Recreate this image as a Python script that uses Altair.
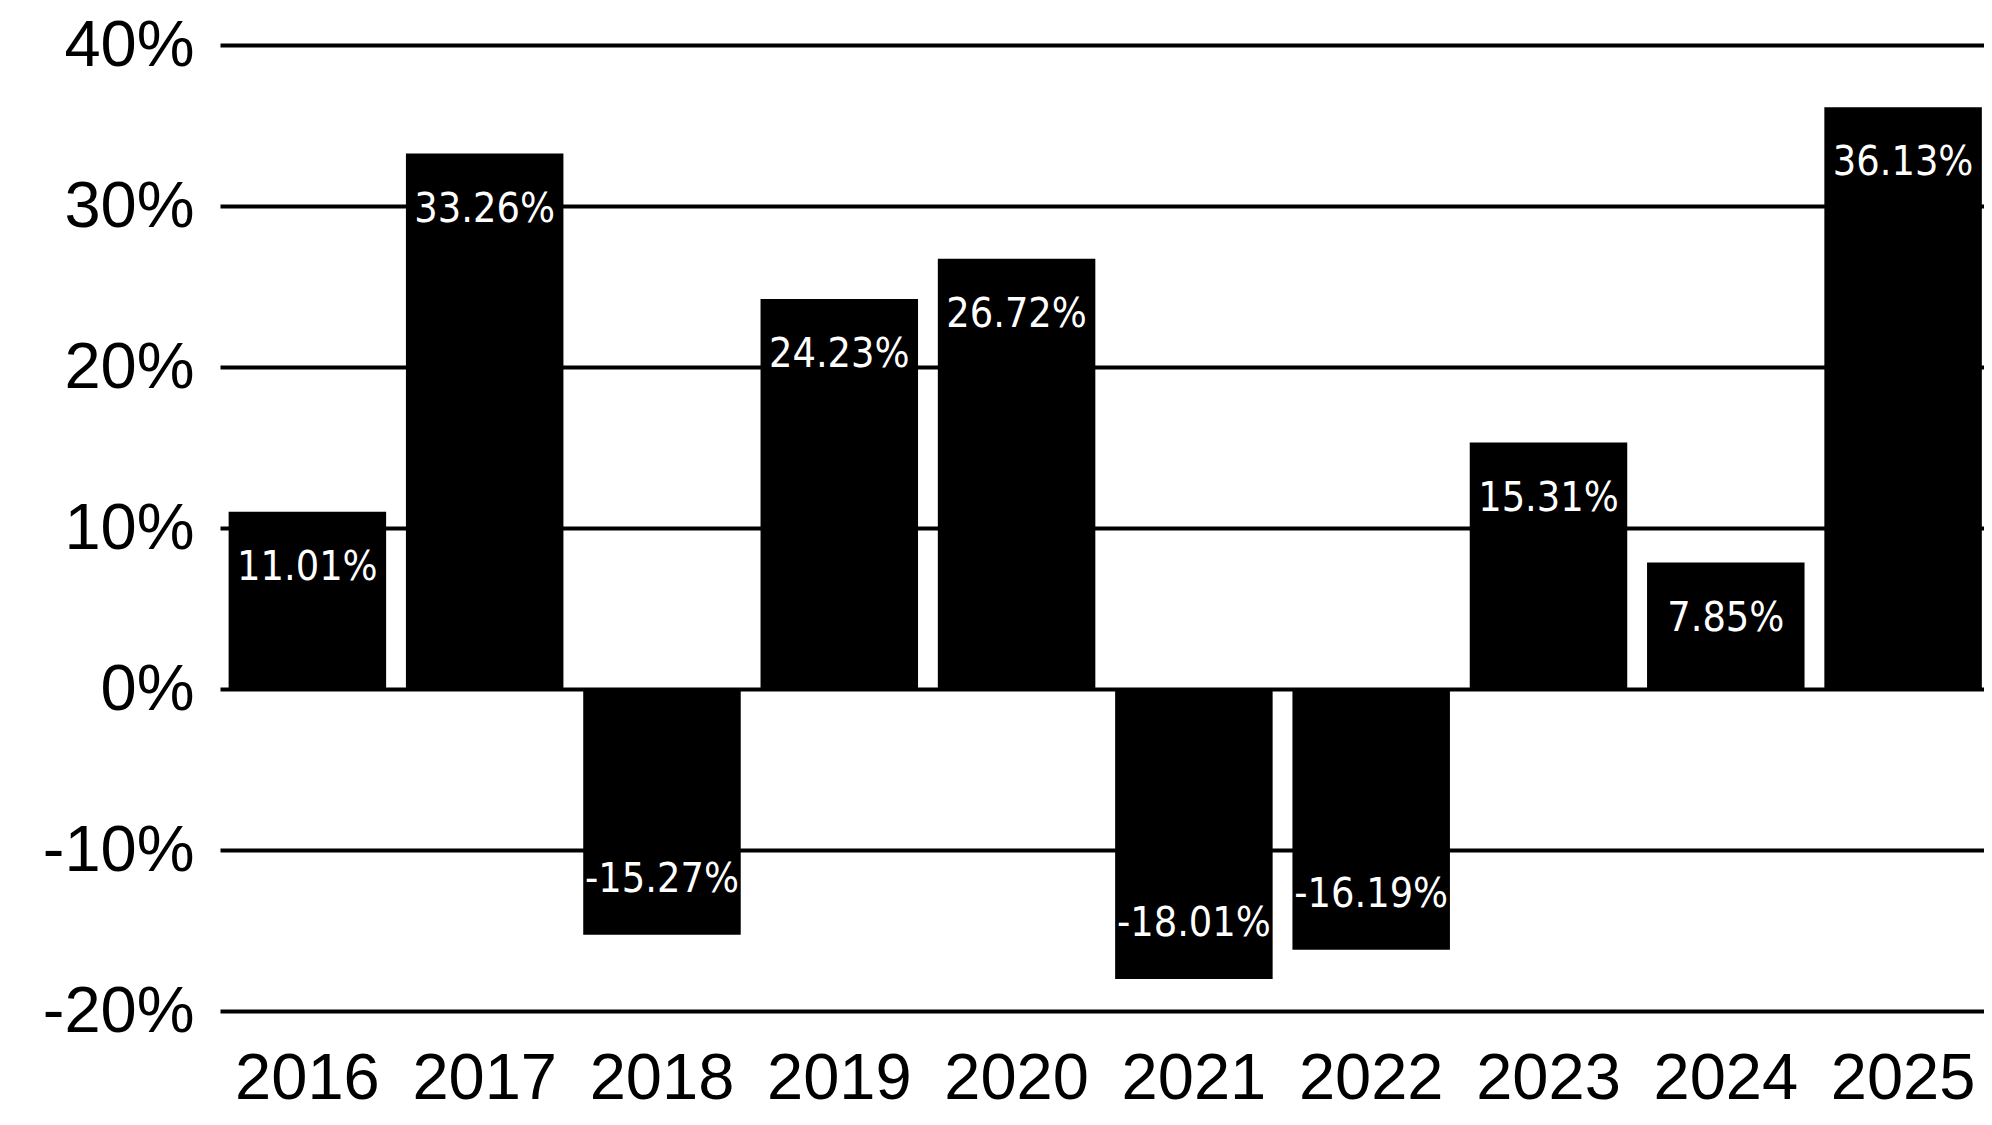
import altair as alt
import pandas as pd

years = ["2016", "2017", "2018", "2019", "2020", "2021", "2022", "2023", "2024", "2025"]
returns = [11.01, 33.26, -15.27, 24.23, 26.72, -18.01, -16.19, 15.31, 7.85, 36.13]
y_ticks = [-20, -10, 0, 10, 20, 30, 40]

df = pd.DataFrame({
    "year": years,
    "ret": returns,
    "label": [f"{v:.2f}%" for v in returns],
})

x_enc = alt.X(
    "year:O",
    sort=years,
    scale=alt.Scale(paddingInner=0.1117, paddingOuter=0.0304, align=0.8),
    axis=alt.Axis(
        title=None, labelAngle=0, labelFont="Liberation Sans", labelFontSize=65,
        labelColor="black", labelPadding=36, domain=False, ticks=False, grid=False,
    ),
)
y_enc = alt.Y(
    "ret:Q",
    scale=alt.Scale(domain=[-20, 40], nice=False),
    axis=alt.Axis(
        title=None, values=y_ticks, labelExpr="datum.value + '%'",
        labelFont="Liberation Sans", labelFontSize=65, labelColor="black",
        labelPadding=26, domain=False, ticks=False, grid=True,
        gridColor="black", gridWidth=4, gridOpacity=1,
    ),
)

base = alt.Chart(df).encode(x=x_enc, y=y_enc)

bars = base.mark_bar(color="black")

text_font = "Liberation Sans Narrow, DejaVu Sans Condensed, sans-serif"
pos_text = base.transform_filter("datum.ret >= 0").mark_text(
    color="white", font=text_font, fontSize=41, baseline="middle", align="center", dy=56
).encode(text="label:N")
neg_text = base.transform_filter("datum.ret < 0").mark_text(
    color="white", font=text_font, fontSize=41, baseline="middle", align="center", dy=-55
).encode(text="label:N")

chart = alt.layer(bars, pos_text, neg_text).properties(
    width=1764,
    height=966,
    autosize=alt.AutoSizeParams(type="none"),
    padding={"left": 212, "top": 37, "right": 0, "bottom": 106},
    background="white",
).configure_view(stroke=None)

chart.save("out.html", embed_options={"renderer": "svg", "actions": False})
